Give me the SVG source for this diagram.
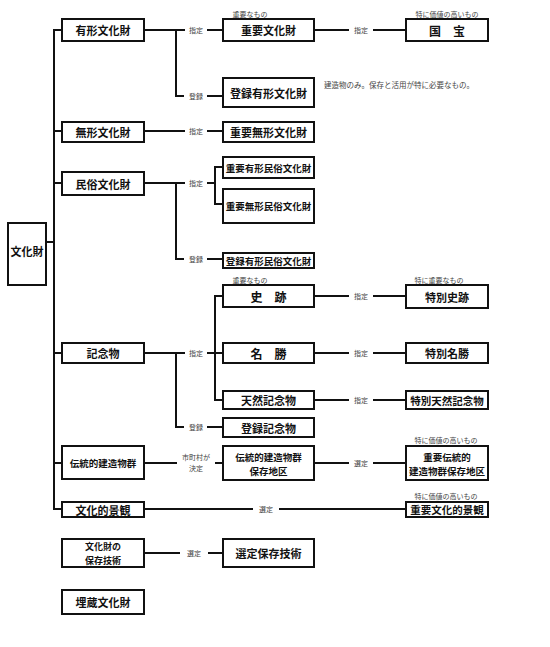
<svg xmlns="http://www.w3.org/2000/svg" width="550" height="647" viewBox="0 0 550 647">
<style>
.box{fill:#fff;stroke:#111;stroke-width:2}
.ln{fill:none;stroke:#111;stroke-width:2}
text{font-family:"Noto Sans CJK JP","Noto Sans CJK SC",sans-serif;dominant-baseline:central;text-anchor:middle}
.t{font-size:11px;font-weight:bold;fill:#111}
.w{font-size:10.5px;font-weight:bold;fill:#111}
.m{font-size:9.5px;font-weight:bold;fill:#111}
.s{font-size:7px;fill:#444}
.n{font-size:7.5px;fill:#444;text-anchor:start}
</style>
<rect width="550" height="647" fill="#fff"/>
<g id="connectors">
<path class="ln" d="M62,30 H54 V509 H62"/>
<path class="ln" d="M46,242 H54"/>
<path class="ln" d="M54,131 H62 M54,183 H62 M54,353 H62 M54,463 H62"/>
<path class="ln" d="M144,30 H185 M207,30 H223 M176,30 V96 H184 M207,96 H223"/>
<path class="ln" d="M314,30 H349 M373,30 H406"/>
<path class="ln" d="M144,131 H185 M207,131 H223"/>
<path class="ln" d="M144,183 H185 M207,183 H215 M223,167 H215 V204 H223 M176,183 V259 H184 M207,259 H223"/>
<path class="ln" d="M144,353 H185 M207,353 H223 M223,296 H215 V400 H223 M176,353 V427 H184 M207,427 H223"/>
<path class="ln" d="M314,296 H349 M373,296 H406 M314,353 H349 M373,353 H406 M314,400 H349 M373,400 H406"/>
<path class="ln" d="M144,463 H177 M215,463 H223 M314,463 H349 M373,463 H406"/>
<path class="ln" d="M144,509 H253 M279,509 H406"/>
<path class="ln" d="M144,553 H180 M208,553 H223"/>
<text class="s" x="196" y="30">指定</text>
<text class="s" x="196" y="96">登録</text>
<text class="s" x="196" y="131">指定</text>
<text class="s" x="196" y="183">指定</text>
<text class="s" x="196" y="259">登録</text>
<text class="s" x="196" y="353">指定</text>
<text class="s" x="196" y="427">登録</text>
<text class="s" x="196" y="457">市町村が</text>
<text class="s" x="196" y="468">決定</text>
<text class="s" x="194" y="553">選定</text>
<text class="s" x="266" y="509">選定</text>
<text class="s" x="361" y="30">指定</text>
<text class="s" x="361" y="296">指定</text>
<text class="s" x="361" y="353">指定</text>
<text class="s" x="361" y="400">指定</text>
<text class="s" x="361" y="463">選定</text>
</g>
<g id="n-bunkazai"><rect class="box" x="8" y="223" width="38" height="62"/><text class="t" x="27" y="251">文化財</text></g>
<g id="n-yukei"><rect class="box" x="62" y="19" width="82" height="22"/><text class="t" x="103" y="30">有形文化財</text></g>
<g id="n-mukei"><rect class="box" x="62" y="122" width="82" height="20"/><text class="t" x="103" y="132">無形文化財</text></g>
<g id="n-minzoku"><rect class="box" x="62" y="172" width="82" height="23"/><text class="t" x="103" y="183.5">民俗文化財</text></g>
<g id="n-kinenbutsu"><rect class="box" x="62" y="343" width="82" height="20"/><text class="t" x="103" y="353">記念物</text></g>
<g id="n-dentou"><rect class="box" x="62" y="446" width="82" height="33"/><text class="m" x="103" y="463">伝統的建造物群</text></g>
<g id="n-keikan"><rect class="box" x="62" y="502" width="82" height="15"/><text class="t" x="103" y="509.5">文化的景観</text></g>
<g id="n-gijutsu"><rect class="box" x="62" y="539" width="82" height="28"/><text class="m" x="103" y="546" style="font-size:9px">文化財の</text><text class="m" x="103" y="560" style="font-size:9px">保存技術</text></g>
<g id="n-maizou"><rect class="box" x="62" y="590" width="82" height="24"/><text class="t" x="103" y="602">埋蔵文化財</text></g>
<g id="n-juyo"><rect class="box" x="223" y="19" width="91" height="22"/><text class="t" x="268.5" y="30">重要文化財</text><text class="s" x="250" y="14">重要なもの</text></g>
<g id="n-toroku-yukei"><rect class="box" x="223" y="78" width="91" height="29"/><text class="t" x="268.5" y="92.5">登録有形文化財</text></g>
<g id="n-juyo-mukei"><rect class="box" x="223" y="122" width="91" height="20"/><text class="t" x="268.5" y="132">重要無形文化財</text></g>
<g id="n-juyo-yukei-minzoku"><rect class="box" x="223" y="157" width="91" height="21"/><text class="m" x="268.5" y="167.5">重要有形民俗文化財</text></g>
<g id="n-juyo-mukei-minzoku"><rect class="box" x="223" y="189" width="91" height="34"/><text class="m" x="268.5" y="206">重要無形民俗文化財</text></g>
<g id="n-toroku-minzoku"><rect class="box" x="223" y="253" width="91" height="15"/><text class="m" x="268.5" y="260.5">登録有形民俗文化財</text></g>
<g id="n-shiseki"><rect class="box" x="223" y="285" width="91" height="22"/><text class="t" x="268.5" y="296" style="font-size:12px">史　跡</text><text class="s" x="250" y="280">重要なもの</text></g>
<g id="n-meisho"><rect class="box" x="223" y="343" width="91" height="20"/><text class="t" x="268.5" y="353" style="font-size:12px">名　勝</text></g>
<g id="n-tennen"><rect class="box" x="223" y="391" width="91" height="18"/><text class="t" x="268.5" y="400">天然記念物</text></g>
<g id="n-toroku-kinen"><rect class="box" x="223" y="418" width="91" height="19"/><text class="t" x="268.5" y="427.5">登録記念物</text></g>
<g id="n-hozonchiku"><rect class="box" x="223" y="446" width="91" height="34"/><text class="m" x="268.5" y="456.5">伝統的建造物群</text><text class="m" x="268.5" y="470.5">保存地区</text></g>
<g id="n-sentei"><rect class="box" x="223" y="539" width="91" height="28"/><text class="t" x="268.5" y="553">選定保存技術</text></g>
<g id="n-kokuho"><rect class="box" x="406" y="19" width="82" height="22"/><text class="t" x="447" y="30" style="font-size:12px">国　宝</text><text class="s" x="447" y="14">特に価値の高いもの</text></g>
<g id="n-tokubetsu-shiseki"><rect class="box" x="406" y="285" width="82" height="23"/><text class="t" x="447" y="296.5">特別史跡</text><text class="s" x="439" y="280">特に重要なもの</text></g>
<g id="n-tokubetsu-meisho"><rect class="box" x="406" y="343" width="82" height="20"/><text class="t" x="447" y="353">特別名勝</text></g>
<g id="n-tokubetsu-tennen"><rect class="box" x="406" y="391" width="82" height="18"/><text class="w" x="447" y="400">特別天然記念物</text></g>
<g id="n-juyo-dentou"><rect class="box" x="406" y="446" width="82" height="34"/><text class="m" x="447" y="456.5">重要伝統的</text><text class="m" x="447" y="470.5">建造物群保存地区</text><text class="s" x="446" y="440">特に価値の高いもの</text></g>
<g id="n-juyo-keikan"><rect class="box" x="406" y="502" width="82" height="15"/><text class="w" x="447" y="509.5">重要文化的景観</text><text class="s" x="446" y="496">特に価値の高いもの</text></g>
<text class="n" x="324" y="84">建造物のみ。保存と活用が特に必要なもの。</text>
</svg>
